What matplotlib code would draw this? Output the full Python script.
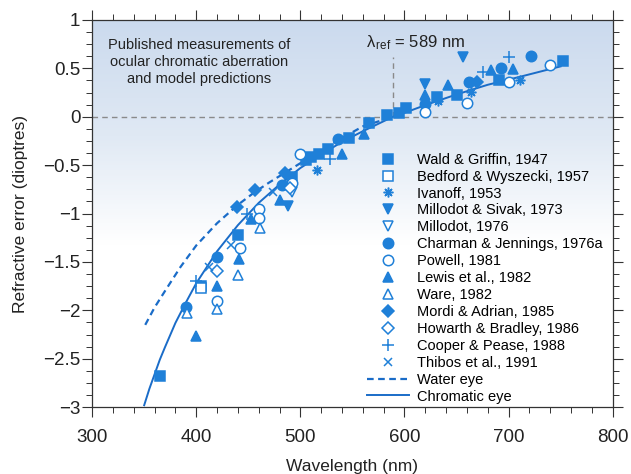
import matplotlib
matplotlib.use("Agg")
import matplotlib.pyplot as plt
import numpy as np
from matplotlib.ticker import AutoMinorLocator, FuncFormatter
from matplotlib.colors import LinearSegmentedColormap
from matplotlib.lines import Line2D

plt.rcParams['font.family'] = ['Liberation Sans', 'DejaVu Sans']
plt.rcParams['mathtext.fontset'] = 'custom'
plt.rcParams['mathtext.rm'] = 'Liberation Sans'
plt.rcParams['mathtext.it'] = 'Liberation Sans'

# measured data (wavelength nm, refractive error D)
wald_x = [365, 405, 440, 492, 505, 510, 518, 527, 547, 566, 583, 595, 601, 631, 650, 691, 752]
wald_y = [-2.68, -1.75, -1.22, -0.62, -0.45, -0.42, -0.39, -0.33, -0.22, -0.07, 0.02, 0.04, 0.09, 0.20, 0.22, 0.38, 0.58]
bedford_x = [405]
bedford_y = [-1.77]
ivanoff_x = [516, 632, 664, 711]
ivanoff_y = [-0.55, 0.16, 0.26, 0.38]
msivak_x = [488, 620, 656]
msivak_y = [-0.92, 0.34, 0.62]
millodot_x = [492]
millodot_y = [-0.78]
charman_x = [390, 420, 482, 536, 620, 662, 693, 722]
charman_y = [-1.97, -1.45, -0.71, -0.23, 0.13, 0.36, 0.50, 0.63]
powell_x = [420, 442, 460, 460, 492, 500, 620, 660, 700, 740]
powell_y = [-1.90, -1.36, -0.95, -1.05, -0.68, -0.39, 0.05, 0.14, 0.36, 0.53]
lewis_x = [400, 420, 441, 453, 480, 540, 561, 620, 642, 683, 704]
lewis_y = [-2.27, -1.75, -1.47, -1.06, -0.86, -0.38, -0.18, 0.22, 0.33, 0.48, 0.49]
ware_x = [391, 420, 440, 461]
ware_y = [-2.03, -1.99, -1.63, -1.15]
mordi_x = [439, 456, 485, 670]
mordi_y = [-0.93, -0.76, -0.58, 0.36]
howarth_x = [420, 490]
howarth_y = [-1.59, -0.74]
cooper_x = [400, 449, 528, 675, 700]
cooper_y = [-1.70, -1.00, -0.44, 0.46, 0.62]
thibos_x = [412, 433, 474]
thibos_y = [-1.55, -1.33, -0.78]

# model curves
chrom_x = [350, 355, 360, 365, 370, 380, 390, 400, 420, 440, 460, 480, 500, 520, 540, 560, 589, 600, 620, 650, 680, 710, 750]
chrom_y = [-2.98, -2.81, -2.66, -2.51, -2.38, -2.13, -1.92, -1.72, -1.39, -1.12, -0.89, -0.70, -0.53, -0.39, -0.26, -0.15, 0.0, 0.04, 0.12, 0.23, 0.33, 0.41, 0.52]
water_x = [351, 360, 370, 385, 400, 420, 440, 456, 470, 485, 500, 530, 560, 589]
water_y = [-2.15, -1.97, -1.80, -1.55, -1.33, -1.10, -0.91, -0.78, -0.68, -0.58, -0.48, -0.28, -0.10, 0.0]

blue = '#1f80d8'
lblue = '#1a6cc8'

fig = plt.figure(figsize=(6.31, 4.74), dpi=100)
ax = fig.add_axes([0.146, 0.141, 0.825, 0.817])

# background gradient
grad = np.linspace(1, 0, 200).reshape(-1, 1)
cmap = LinearSegmentedColormap.from_list('bg', [(0, '#ffffff'), (0.42, '#ffffff'), (0.7, '#e0e9f4'), (1, '#cbdaee')])
ax.imshow(grad, extent=[300, 800, -3, 1], aspect='auto', cmap=cmap, zorder=0, origin='upper')

ax.axhline(0, color='#8a8a8a', lw=1, ls=(0, (4, 3)), zorder=1)
ax.plot([589, 589], [0, 0.62], color='#8a8a8a', lw=1, ls=(0, (4, 3)), zorder=1)

ax.plot(water_x, water_y, color=lblue, lw=1.6, ls=(0, (3, 2)), zorder=2)
ax.plot(chrom_x, chrom_y, color=lblue, lw=1.4, zorder=2)

series = [
    (wald_x, wald_y, 's', True, 6.5, 'Wald & Griffin, 1947'),
    (bedford_x, bedford_y, 's', False, 6.5, 'Bedford & Wyszecki, 1957'),
    (ivanoff_x, ivanoff_y, (8, 2, 0), True, 7, 'Ivanoff, 1953'),
    (msivak_x, msivak_y, 'v', True, 7.5, 'Millodot & Sivak, 1973'),
    (millodot_x, millodot_y, 'v', False, 7.5, 'Millodot, 1976'),
    (charman_x, charman_y, 'o', True, 7.5, 'Charman & Jennings, 1976a'),
    (powell_x, powell_y, 'o', False, 7.5, 'Powell, 1981'),
    (lewis_x, lewis_y, '^', True, 7.5, 'Lewis et al., 1982'),
    (ware_x, ware_y, '^', False, 7.5, 'Ware, 1982'),
    (mordi_x, mordi_y, 'D', True, 6, 'Mordi & Adrian, 1985'),
    (howarth_x, howarth_y, 'D', False, 6, 'Howarth & Bradley, 1986'),
    (cooper_x, cooper_y, '+', True, 8, 'Cooper & Pease, 1988'),
    (thibos_x, thibos_y, 'x', True, 6, 'Thibos et al., 1991'),
]

handles = []
for xs, ys, m, filled, ms, lab in series:
    fc = blue if filled else 'white'
    ax.plot(xs, ys, ls='none', marker=m, ms=ms, mfc=fc, mec=blue, mew=1.1, zorder=3)
    handles.append(Line2D([], [], ls='none', marker=m, ms=ms, mfc=fc, mec=blue, mew=1.1, label=lab))
handles.append(Line2D([], [], color=lblue, lw=1.6, ls=(0, (3, 2)), label='Water eye'))
handles.append(Line2D([], [], color=lblue, lw=1.4, label='Chromatic eye'))

ax.legend(handles=handles, loc='upper left', bbox_to_anchor=(0.528, 0.657), frameon=False,
          fontsize=10.5, handlelength=2.9, handletextpad=0.55, labelspacing=0.2,
          borderpad=0, borderaxespad=0)

ax.text(403, 0.565, 'Published measurements of\nocular chromatic aberration\nand model predictions',
        ha='center', va='center', fontsize=10.5, linespacing=1.3, color='#222222')
ax.text(611, 0.77, r'$\lambda_{\,\rm ref}$ = 589 nm', ha='center', va='center', fontsize=12, color='#222222')

ax.set_xlim(300, 800)
ax.set_ylim(-3, 1)
ax.set_xticks([300, 400, 500, 600, 700, 800])
ax.set_yticks([1, 0.5, 0, -0.5, -1, -1.5, -2, -2.5, -3])
ax.xaxis.set_minor_locator(AutoMinorLocator(5))
ax.yaxis.set_minor_locator(AutoMinorLocator(4))
ax.yaxis.set_major_formatter(FuncFormatter(lambda v, p: ('%g' % v).replace('-', '\u2212')))
ax.tick_params(which='both', direction='out', top=True, right=True, labelsize=13.5, colors='#333333', labelcolor='#222222')
ax.tick_params(which='major', length=7, width=0.8)
ax.tick_params(which='minor', length=4, width=0.7)
ax.tick_params(axis='x', which='major', pad=9)
ax.tick_params(axis='y', which='major', pad=1.5)
for s in ax.spines.values():
    s.set_color('#333333')
    s.set_linewidth(0.9)

ax.set_xlabel('Wavelength (nm)', fontsize=12.5, color='#222222', labelpad=9)
ax.set_ylabel('Refractive error (dioptres)', fontsize=12.5, color='#222222', labelpad=11)

fig.savefig('out.png', dpi=100)
